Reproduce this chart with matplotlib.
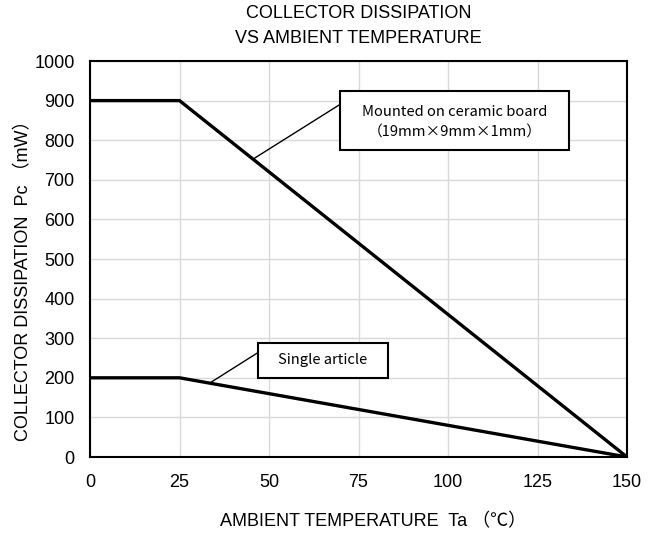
import matplotlib
matplotlib.use("Agg")
import matplotlib.pyplot as plt
from matplotlib.patches import Rectangle

# ---- data ----
temp = [0, 25, 150]
pc_ceramic = [900, 900, 0]
pc_single = [200, 200, 0]
x_ticks = [0, 25, 50, 75, 100, 125, 150]
y_ticks = [0, 100, 200, 300, 400, 500, 600, 700, 800, 900, 1000]

title = "COLLECTOR DISSIPATION\nVS AMBIENT TEMPERATURE"
xlabel = "AMBIENT TEMPERATURE  Ta （℃）"
ylabel = "COLLECTOR DISSIPATION  Pc （mW）"
label_ceramic = "Mounted on ceramic board\n（19mm×9mm×1mm）"
label_single = "Single article"

FAM = ['Liberation Sans', 'Noto Sans CJK JP', 'DejaVu Sans']
plt.rcParams['font.family'] = FAM

W, H = 658, 537
fig = plt.figure(figsize=(W / 100, H / 100), dpi=100)
ax = fig.add_axes([90 / W, 1 - 457 / H, 537 / W, 396 / H])

ax.plot(temp, pc_ceramic, color='black', lw=2.4, solid_joinstyle='miter', zorder=3)
ax.plot(temp, pc_single, color='black', lw=2.4, solid_joinstyle='miter', zorder=3)

ax.set_xlim(0, 150)
ax.set_ylim(0, 1000)
ax.set_xticks(x_ticks)
ax.set_yticks(y_ticks)
ax.tick_params(length=0, labelsize=13)
ax.tick_params(axis='x', pad=12)
ax.tick_params(axis='y', pad=11)
ax.grid(True, color='#d9d9d9', lw=1)
ax.set_axisbelow(True)
for s in ax.spines.values():
    s.set_linewidth(1.5)
    s.set_color('black')

fig.text(358.5 / W, 1 - 5 / H, title, ha='center', va='top', fontsize=13, linespacing=1.6)
fig.text(373 / W, 1 - 522 / H, xlabel, ha='center', va='center', fontsize=13)
fig.text(24 / W, 1 - 276 / H, ylabel, ha='center', va='center', fontsize=13, rotation=90)

# annotation boxes
ann_fam = ['Noto Sans CJK JP', 'DejaVu Sans']
ax.add_patch(Rectangle((69.8, 775), 64, 149, fill=True, facecolor='white',
                       edgecolor='black', lw=1.5, zorder=4))
ax.text(101.8, 846, label_ceramic, ha='center', va='center', fontsize=10.6,
        linespacing=1.6, zorder=5, family=ann_fam)
ax.annotate('', xy=(45.5, 752), xytext=(69.6, 889),
            arrowprops=dict(arrowstyle='-', lw=1.0, color='black', shrinkA=0, shrinkB=0))

ax.add_patch(Rectangle((46.9, 200), 36.3, 88, fill=True, facecolor='white',
                       edgecolor='black', lw=1.5, zorder=4))
ax.text(65.05, 244, label_single, ha='center', va='center', fontsize=10.6,
        zorder=5, family=ann_fam)
ax.annotate('', xy=(33.5, 187), xytext=(46.8, 263),
            arrowprops=dict(arrowstyle='-', lw=1.0, color='black', shrinkA=0, shrinkB=0))

fig.savefig('out.png', dpi=100, facecolor='white')
